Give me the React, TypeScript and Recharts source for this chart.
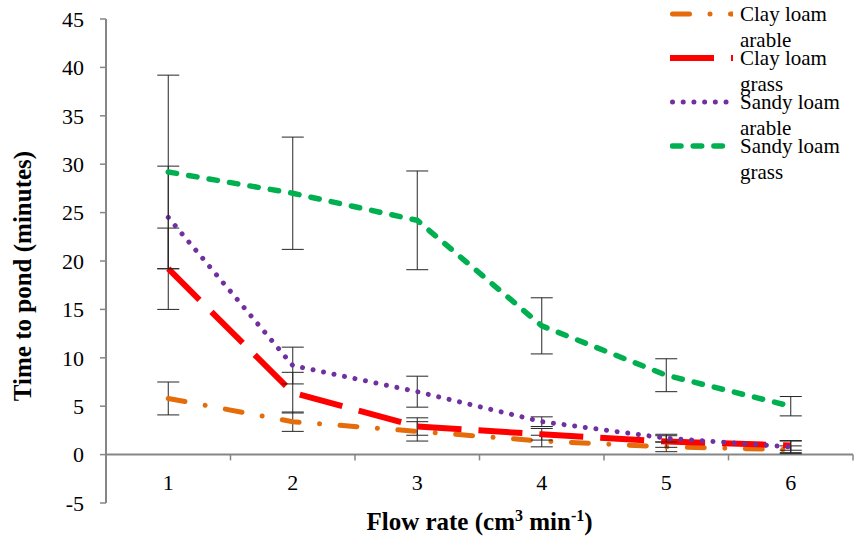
import React from "react";
import {
  ErrorBar,
  LineChart,
  Label,
  Legend,
  Line,
  ReferenceLine,
  XAxis,
  YAxis,
} from "recharts";

const categories = [1, 2, 3, 4, 5, 6];
const clayArable = [5.8, 3.4, 2.4, 1.4, 0.8, 0.5];
const clayArableErr = [1.7, 1.0, 1.0, 0.6, 0.5, 0.4];
const clayGrass = [19.2, 6.4, 2.9, 2.1, 1.35, 0.95];
const clayGrassErr = [4.2, 2.1, 0.9, 0.6, 0.6, 0.5];
const sandyArable = [24.5, 9.2, 6.5, 3.4, 1.7, 0.8];
const sandyArableErr = [5.3, 1.9, 1.6, 0.5, 0.4, 0.6];
const sandyGrass = [29.2, 27.0, 24.2, 13.3, 8.2, 5.0];
const sandyGrassErr = [10.0, 5.8, 5.1, 2.9, 1.7, 1.0];
const yTicks = [-5, 0, 5, 10, 15, 20, 25, 30, 35, 40, 45];

const chartData = categories.map((c, i) => ({
  x: c,
  clayArable: clayArable[i],
  clayArableErr: clayArableErr[i],
  clayGrass: clayGrass[i],
  clayGrassErr: clayGrassErr[i],
  sandyArable: sandyArable[i],
  sandyArableErr: sandyArableErr[i],
  sandyGrass: sandyGrass[i],
  sandyGrassErr: sandyGrassErr[i],
}));

const FONT = "Liberation Serif, DejaVu Serif, serif";
const AXIS = "#868686";

const series = [
  { key: "clayArable", name: "Clay loam arable", color: "#E46C0A", width: 5, dash: "17 20.5 0.01 20.5", cap: "round" },
  { key: "clayGrass", name: "Clay loam grass", color: "#FF0000", width: 6, dash: "44 17", cap: "butt" },
  { key: "sandyArable", name: "Sandy loam arable", color: "#7030A0", width: 5, dash: "0.01 10.7", cap: "round" },
  { key: "sandyGrass", name: "Sandy loam grass", color: "#00B050", width: 5.5, dash: "8.5 12.2", cap: "round" },
];

const renderLegend = () => (
  <div style={{ fontFamily: FONT, fontSize: 21, color: "#000" }}>
    {series.map((s) => (
      <div key={s.key} style={{ display: "flex", height: 44 }}>
        <svg width={63} height={26} style={{ marginRight: 7, flexShrink: 0 }}>
          <line
            x1={s.cap === "round" ? 2.5 : 0}
            y1={13}
            x2={63}
            y2={13}
            stroke={s.color}
            strokeWidth={s.width}
            strokeDasharray={s.dash}
            strokeLinecap={s.cap as any}
          />
        </svg>
        <div style={{ width: 115, lineHeight: "26px" }}>{s.name}</div>
      </div>
    ))}
  </div>
);

const XTick = ({ x, y, payload }: any) => (
  <text x={x} y={y - 13} textAnchor="middle" style={{ fontFamily: FONT }} fontSize={22} fill="#000">
    {payload.value}
  </text>
);

const XTitle = ({ viewBox }: any) => (
  <text
    x={viewBox.x + viewBox.width / 2}
    y={viewBox.y + 27}
    textAnchor="middle"
    style={{ fontFamily: FONT }}
    fontSize={25}
    fontWeight="bold"
    fill="#000"
  >
    Flow rate (cm
    <tspan dy={-9} fontSize={16}>3</tspan>
    <tspan dy={9}> min</tspan>
    <tspan dy={-9} fontSize={16}>-1</tspan>
    <tspan dy={9}>)</tspan>
  </text>
);

const YTitle = ({ viewBox }: any) => {
  const x = 31;
  const y = viewBox.y + viewBox.height / 2 + 15;
  return (
    <text
      x={x}
      y={y}
      transform={`rotate(-90, ${x}, ${y})`}
      textAnchor="middle"
      style={{ fontFamily: FONT }}
      fontSize={25}
      fontWeight="bold"
      fill="#000"
    >
      Time to pond (minutes)
    </text>
  );
};

export default function App() {
  return (
    <div style={{ position: "absolute", left: 0, top: 0, width: 856, height: 540, background: "#fff", fontFamily: FONT }}>
      <LineChart
        width={856}
        height={540}
        data={chartData}
        margin={{ top: 19, right: 3, left: 10, bottom: 0 }}
        style={{ fontFamily: FONT }}
      >
        <XAxis
          dataKey="x"
          type="number"
          domain={[0.5, 6.5]}
          ticks={categories}
          axisLine={false}
          tickLine={false}
          tickSize={0}
          tickMargin={0}
          height={37}
          tick={<XTick />}
        >
          <Label content={<XTitle />} />
        </XAxis>
        <YAxis
          type="number"
          domain={[-5, 45]}
          ticks={yTicks}
          width={96}
          axisLine={{ stroke: AXIS, strokeWidth: 2 }}
          tickLine={{ stroke: AXIS, strokeWidth: 1.5 }}
          tickSize={6}
          tickMargin={16}
          tick={{ fontSize: 22, fill: "#000", style: { fontFamily: FONT } }}
        >
          <Label content={<YTitle />} />
        </YAxis>
        <ReferenceLine y={0} stroke={AXIS} strokeWidth={2} />
        {categories.map((c) => (
          <ReferenceLine
            key={c}
            segment={[
              { x: c + 0.5, y: 0 },
              { x: c + 0.5, y: -0.6 },
            ]}
            stroke={AXIS}
            strokeWidth={1.5}
          />
        ))}
        {series.map((s) => (
          <Line
            key={s.key}
            dataKey={s.key}
            name={s.name}
            type="linear"
            stroke={s.color}
            strokeWidth={s.width}
            strokeDasharray={s.dash}
            strokeLinecap={s.cap as any}
            dot={false}
            activeDot={false}
            isAnimationActive={false}
          >
            <ErrorBar dataKey={`${s.key}Err`} width={11} stroke="#262626" strokeWidth={1} direction="y" />
          </Line>
        ))}
        <Legend
          layout="horizontal"
          verticalAlign="middle"
          align="center"
          content={renderLegend}
          wrapperStyle={{ top: 1, left: 670, width: 186, height: 180 }}
        />
      </LineChart>
    </div>
  );
}
